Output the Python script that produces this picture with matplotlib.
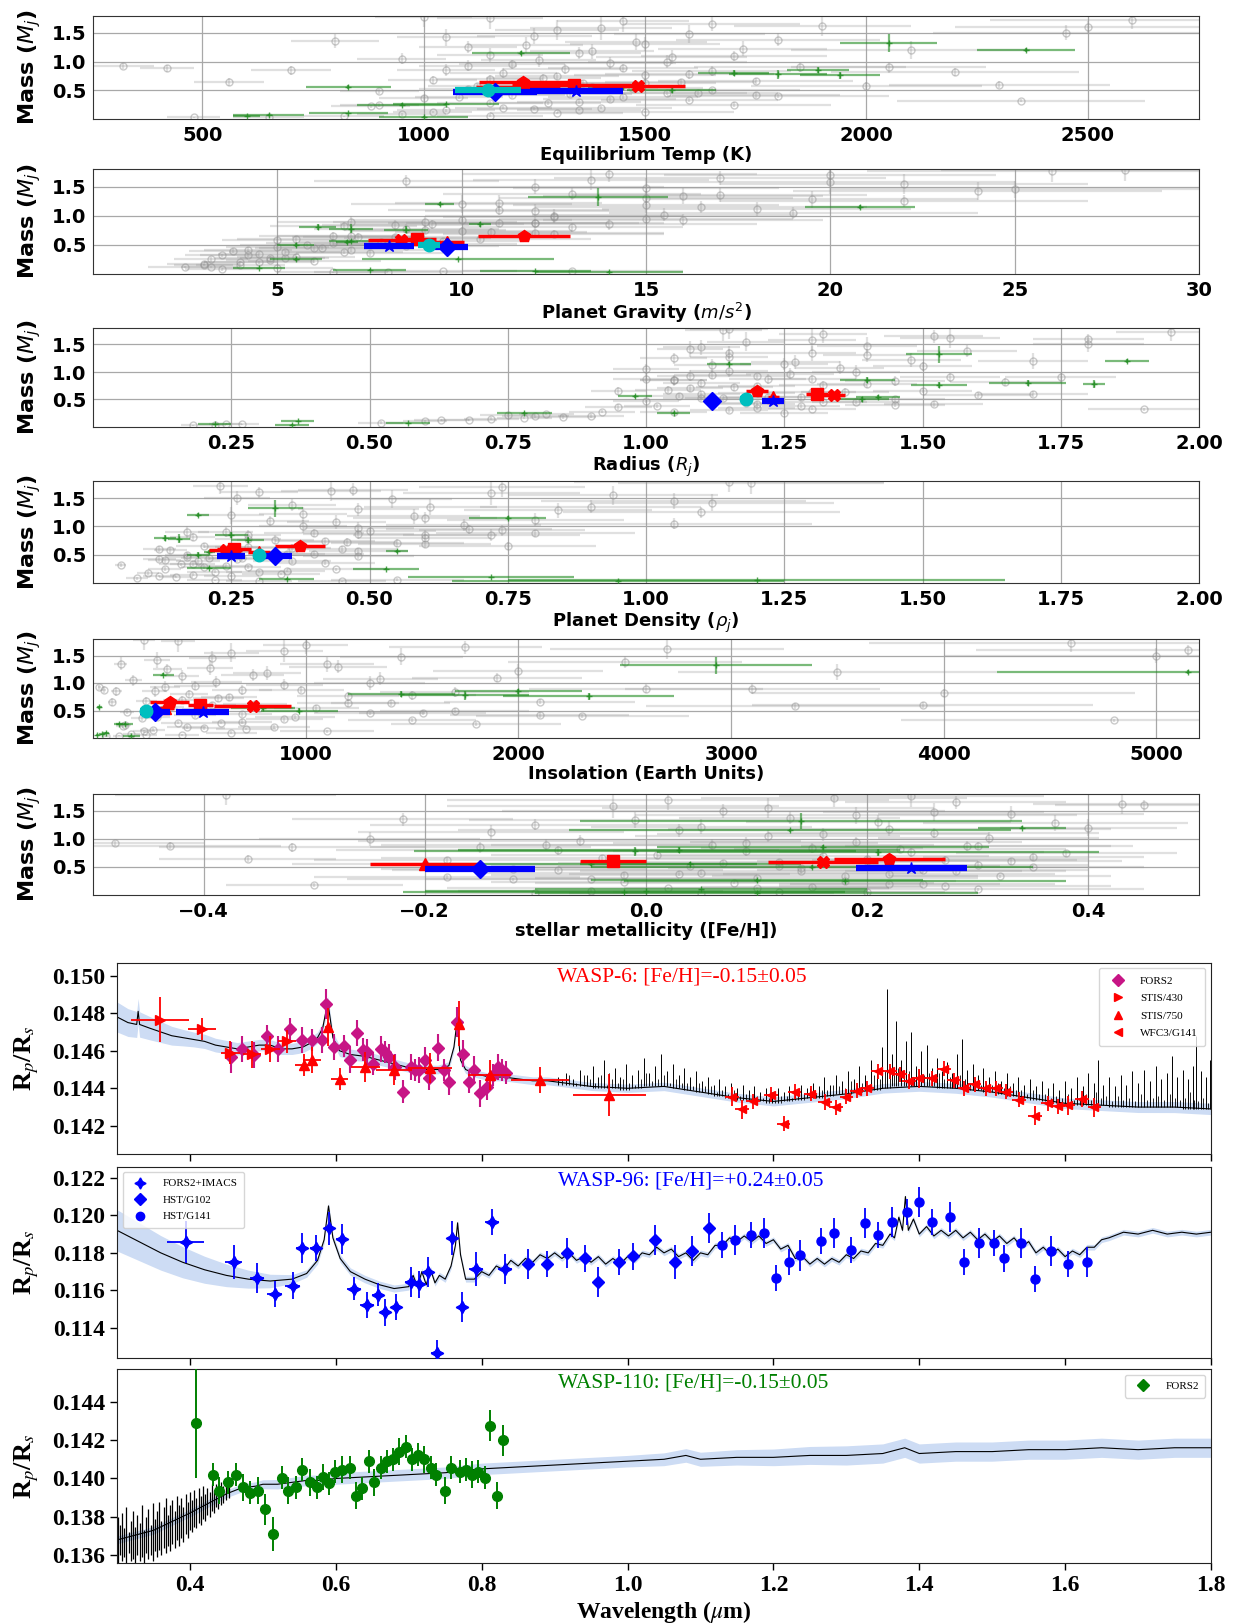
import matplotlib
matplotlib.use('Agg')
import matplotlib.pyplot as plt
from matplotlib.lines import Line2D
import numpy as np

# ---------------- top panels: mass vs planet / star parameters ----------------
# grey = known planets (same planets in every panel)
gray_mass = [0.03, 0.04, 0.05, 0.06, 0.08, 0.10, 0.12, 0.15, 0.18, 0.20, 0.22, 0.25, 0.28, 0.30, 0.33, 0.36, 0.38, 0.40, 0.42,
             0.45, 0.48, 0.50, 0.52, 0.55, 0.58, 0.60, 0.63, 0.66, 0.70, 0.74, 0.78, 0.82, 0.85, 0.88, 0.90, 0.95, 1.00, 1.05,
             1.10, 1.15, 1.20, 1.25, 1.30, 1.38, 1.45, 1.50, 1.58, 1.65, 1.72, 1.78, 0.92, 0.88, 0.65, 0.85, 1.35, 0.32, 1.60,
             0.12, 0.20, 0.28, 0.34, 0.38, 0.44, 0.46, 0.52, 0.54, 0.57, 0.62, 0.64, 0.68, 0.72, 0.76, 0.80, 0.84, 0.87,
             0.93, 0.97, 1.02, 1.08, 1.12, 1.18, 1.22, 1.28, 1.34, 1.42, 1.48, 1.55, 1.62, 1.70, 1.76, 0.16, 0.24, 0.42,
             0.60, 0.90]
gray_mass_err = [0.01, 0.01, 0.01, 0.02, 0.02, 0.02, 0.02, 0.03, 0.03, 0.03, 0.03, 0.04, 0.03, 0.04, 0.03, 0.05, 0.04, 0.04, 0.05,
                 0.04, 0.05, 0.04, 0.05, 0.05, 0.06, 0.05, 0.06, 0.05, 0.07, 0.06, 0.08, 0.07, 0.10, 0.07, 0.09, 0.08, 0.12, 0.10,
                 0.09, 0.11, 0.15, 0.10, 0.12, 0.11, 0.14, 0.13, 0.20, 0.12, 0.15, 0.18, 0.05, 0.06, 0.07, 0.08, 0.12, 0.03, 0.10,
                 0.02, 0.03, 0.03, 0.04, 0.04, 0.05, 0.05, 0.05, 0.06, 0.05, 0.06, 0.06, 0.07, 0.07, 0.08, 0.08, 0.09, 0.09,
                 0.10, 0.10, 0.11, 0.12, 0.12, 0.13, 0.13, 0.14, 0.14, 0.15, 0.16, 0.17, 0.18, 0.18, 0.19, 0.02, 0.03, 0.05,
                 0.06, 0.10]
gray_teq = [480, 650, 820, 1150, 950, 1300, 1500, 1050, 1250, 1400, 880, 1700, 1150, 1350, 1600, 1000, 1450, 1800, 1200,
            1550, 900, 1650, 1100, 1380, 2000, 1250, 1500, 1750, 1150, 1300, 1600, 2200, 1050, 1450, 1850, 1200, 1550, 950,
            1700, 1350, 2100, 1100, 1500, 1800, 1250, 2450, 1400, 1650, 2600, 1000, 320, 420, 560, 700, 800, 2350, 2500,
            1020, 1180, 1280, 1420, 1080, 1330, 1620, 1230, 1470, 1120, 1360, 1580, 1020, 1270, 1500, 1180, 1650, 1320,
            1100, 1420, 1260, 1560, 1150, 1380, 1720, 1230, 1480, 1050, 1600, 1300, 1900, 1450, 1150, 1350, 900, 1750,
            2300, 2050]
gray_teq_err = [60, 80, 90, 120, 100, 150, 200, 110, 130, 160, 90, 220, 120, 140, 200, 100, 170, 250, 120,
                180, 90, 200, 110, 150, 260, 130, 160, 220, 120, 140, 190, 280, 110, 170, 240, 120, 180, 100,
                210, 140, 270, 110, 170, 230, 130, 300, 160, 200, 320, 110, 70, 60, 80, 90, 100, 280, 300,
                90, 110, 120, 150, 100, 140, 180, 120, 160, 110, 140, 170, 100, 130, 160, 120, 180, 140,
                110, 150, 130, 170, 120, 140, 190, 130, 160, 110, 170, 140, 200, 150, 120, 140, 90, 190,
                250, 220]
gray_g = [6.5, 8.0, 9.5, 13.0, 3.5, 5.0, 2.5, 4.0, 3.0, 4.5, 6.0, 3.2, 4.8, 5.5, 4.2, 7.5, 5.2, 3.8, 7.0,
          6.2, 8.5, 5.8, 9.0, 7.8, 5.0, 10.5, 8.2, 7.0, 12.0, 10.0, 8.5, 6.8, 14.0, 11.0, 9.0, 15.0, 12.5, 19.0,
          11.0, 16.5, 10.0, 22.0, 15.0, 13.0, 25.0, 12.0, 20.0, 17.0, 14.0, 28.0, 10.0, 12.0, 6.5, 9.2, 17.0, 3.5, 8.5,
          3.2, 4.0, 5.2, 4.5, 6.8, 6.0, 5.0, 8.0, 6.5, 9.5, 8.8, 7.2, 12.5, 10.8, 9.0, 13.0, 8.2, 12.0,
          16.0, 12.5, 15.5, 12.0, 18.0, 15.0, 11.0, 19.5, 16.0, 24.0, 15.0, 22.0, 13.5, 20.0, 26.0, 3.0, 4.8, 4.2,
          5.5, 7.0]
gray_g_err = [1.5, 2.0, 2.0, 3.0, 1.0, 1.5, 1.0, 1.2, 1.0, 1.5, 1.8, 1.0, 1.5, 1.6, 1.3, 2.0, 1.5, 1.2, 2.0,
              1.8, 2.5, 1.8, 2.5, 2.2, 1.5, 3.0, 2.5, 2.0, 3.5, 3.0, 2.5, 2.0, 4.0, 3.0, 2.5, 4.0, 3.5, 5.0,
              3.0, 4.5, 3.0, 5.0, 4.0, 3.5, 5.0, 3.5, 5.0, 4.5, 4.0, 5.0, 3.0, 3.5, 2.0, 2.5, 4.0, 1.0, 2.5,
              0.8, 1.0, 1.2, 1.1, 1.6, 1.5, 1.4, 2.0, 1.8, 2.2, 2.0, 1.8, 3.0, 2.6, 2.2, 3.0, 2.0, 2.8,
              3.8, 3.0, 3.6, 3.0, 4.2, 3.6, 2.8, 4.5, 3.8, 5.0, 3.6, 5.0, 3.2, 4.5, 5.0, 0.8, 1.2, 1.2,
              1.6, 2.0]
gray_r = [0.18, 0.22, 0.27, 0.24, 0.52, 0.60, 0.63, 0.72, 0.85, 0.90, 0.75, 1.25, 1.05, 1.15, 1.30, 0.95, 1.28, 1.45, 1.20,
          1.32, 1.00, 1.45, 1.10, 1.22, 1.60, 1.10, 1.30, 1.50, 1.08, 1.20, 1.40, 1.65, 1.05, 1.30, 1.55, 1.12, 1.38, 1.00,
          1.50, 1.25, 1.70, 1.05, 1.40, 1.58, 1.10, 1.80, 1.30, 1.52, 1.95, 1.15, 1.20, 1.00, 0.95, 1.05, 1.15, 1.90, 1.80,
          0.68, 0.80, 0.92, 1.20, 1.02, 1.18, 1.38, 1.14, 1.28, 1.06, 1.20, 1.36, 1.04, 1.16, 1.32, 1.10, 1.45, 1.22,
          1.08, 1.26, 1.15, 1.35, 1.12, 1.27, 1.48, 1.15, 1.30, 1.08, 1.40, 1.18, 1.55, 1.32, 1.14, 0.78, 0.82, 1.52,
          1.70, 1.75]
gray_r_err = [0.02, 0.02, 0.03, 0.03, 0.04, 0.04, 0.05, 0.05, 0.06, 0.06, 0.05, 0.08, 0.06, 0.07, 0.08, 0.06, 0.07, 0.09, 0.07,
              0.08, 0.06, 0.09, 0.07, 0.08, 0.10, 0.07, 0.08, 0.09, 0.06, 0.07, 0.09, 0.10, 0.06, 0.08, 0.09, 0.07, 0.08, 0.06,
              0.09, 0.08, 0.10, 0.06, 0.08, 0.09, 0.07, 0.10, 0.08, 0.09, 0.10, 0.07, 0.06, 0.06, 0.05, 0.06, 0.07, 0.10, 0.10,
              0.05, 0.06, 0.06, 0.07, 0.06, 0.07, 0.08, 0.07, 0.08, 0.06, 0.07, 0.08, 0.06, 0.07, 0.08, 0.07, 0.09, 0.07,
              0.06, 0.08, 0.07, 0.08, 0.07, 0.08, 0.09, 0.07, 0.08, 0.06, 0.09, 0.07, 0.09, 0.08, 0.07, 0.05, 0.05, 0.09,
              0.10, 0.10]
gray_rho = [0.45, 0.30, 0.22, 0.55, 0.08, 0.15, 0.12, 0.18, 0.10, 0.22, 0.35, 0.13, 0.20, 0.24, 0.16, 0.42, 0.19, 0.13, 0.26,
            0.21, 0.48, 0.17, 0.40, 0.30, 0.14, 0.45, 0.28, 0.20, 0.55, 0.42, 0.28, 0.18, 0.72, 0.40, 0.24, 0.68, 0.38, 1.05,
            0.32, 0.60, 0.25, 1.10, 0.48, 0.36, 1.05, 0.26, 0.72, 0.47, 0.23, 1.15, 0.50, 0.80, 0.75, 0.60, 0.90, 0.05, 0.30,
            0.25, 0.30, 0.28, 0.18, 0.36, 0.27, 0.17, 0.35, 0.26, 0.48, 0.36, 0.25, 0.60, 0.46, 0.33, 0.60, 0.28, 0.48,
            0.74, 0.48, 0.67, 0.44, 0.80, 0.58, 0.38, 0.84, 0.61, 1.12, 0.54, 0.94, 0.43, 0.74, 1.19, 0.34, 0.44, 0.12,
            0.12, 0.17]
gray_rho_err = [0.08, 0.06, 0.05, 0.12, 0.02, 0.03, 0.03, 0.04, 0.02, 0.05, 0.07, 0.03, 0.04, 0.05, 0.04, 0.09, 0.04, 0.03, 0.06,
                0.05, 0.10, 0.04, 0.09, 0.07, 0.03, 0.10, 0.06, 0.05, 0.12, 0.09, 0.06, 0.04, 0.16, 0.09, 0.05, 0.15, 0.08, 0.25,
                0.07, 0.13, 0.06, 0.25, 0.11, 0.08, 0.24, 0.06, 0.16, 0.10, 0.05, 0.28, 0.12, 0.18, 0.16, 0.13, 0.20, 0.01, 0.07,
                0.05, 0.06, 0.06, 0.04, 0.07, 0.06, 0.04, 0.07, 0.05, 0.09, 0.07, 0.05, 0.12, 0.09, 0.07, 0.12, 0.06, 0.10,
                0.15, 0.10, 0.14, 0.09, 0.16, 0.12, 0.08, 0.17, 0.12, 0.22, 0.11, 0.19, 0.09, 0.15, 0.24, 0.07, 0.09, 0.03,
                0.03, 0.04]
gray_ins = [60, 120, 250, 420, 180, 650, 1100, 280, 520, 850, 140, 1800, 400, 700, 1500, 230, 950, 2300, 480,
            1300, 160, 1700, 330, 780, 3300, 560, 1200, 2100, 420, 640, 1500, 4000, 290, 980, 2600, 480, 1300, 190,
            1900, 750, 3500, 350, 1150, 2500, 560, 5000, 900, 1750, 4600, 240, 30, 50, 90, 110, 130, 4800, 5150,
            240, 440, 600, 900, 300, 700, 1550, 520, 1050, 360, 760, 1400, 250, 590, 1200, 450, 1700, 700,
            340, 900, 580, 1350, 420, 820, 2000, 550, 1100, 300, 1450, 650, 2700, 1000, 400, 720, 150, 2100,
            3900, 3100]
gray_ins_err = [15, 25, 50, 80, 40, 120, 220, 60, 100, 170, 30, 400, 80, 140, 300, 50, 190, 500, 100,
                260, 35, 350, 70, 160, 700, 110, 240, 450, 90, 130, 300, 900, 60, 200, 550, 100, 260, 40,
                400, 150, 750, 70, 230, 550, 110, 1000, 180, 360, 950, 50, 8, 12, 20, 25, 30, 1000, 1000,
                50, 90, 120, 180, 60, 140, 300, 100, 200, 70, 150, 280, 50, 120, 240, 90, 350, 140,
                70, 180, 120, 270, 80, 160, 400, 110, 220, 60, 290, 130, 550, 200, 80, 140, 30, 420,
                800, 600]
gray_feh = [-0.10, 0.05, 0.12, 0.20, -0.05, 0.30, 0.02, 0.15, -0.30, 0.25, 0.08, 0.18, -0.12, 0.10, 0.32, -0.02, 0.22, 0.05, 0.28,
            -0.08, 0.14, 0.35, 0.04, -0.20, 0.12, 0.20, 0.27, -0.04, 0.16, 0.38, 0.09, 0.23, -0.15, 0.30, 0.06, 0.19, -0.25, 0.11,
            0.26, 0.03, 0.40, -0.10, 0.21, 0.13, 0.33, 0.07, -0.03, 0.28, 0.17, -0.38, -0.48, -0.43, -0.36, -0.32, -0.22, -0.18, 0.45,
            0.10, 0.22, -0.05, 0.18, 0.03, 0.25, -0.12, 0.12, 0.30, 0.07, -0.18, 0.20, 0.35, 0.01, 0.24, -0.08, 0.15, 0.29,
            0.09, -0.06, 0.31, 0.16, -0.14, 0.22, 0.05, 0.37, -0.01, 0.19, 0.26, 0.11, 0.43, 0.02, 0.24, 0.27, -0.02, 0.14,
            0.33, -0.09]
gray_feh_err = [0.10, 0.12, 0.15, 0.10, 0.12, 0.15, 0.20, 0.10, 0.08, 0.12, 0.18, 0.10, 0.15, 0.20, 0.10, 0.12, 0.15, 0.20, 0.10,
                0.15, 0.12, 0.10, 0.18, 0.12, 0.15, 0.10, 0.12, 0.20, 0.15, 0.10, 0.12, 0.15, 0.10, 0.12, 0.20, 0.15, 0.10, 0.12,
                0.15, 0.20, 0.08, 0.15, 0.12, 0.10, 0.12, 0.20, 0.15, 0.10, 0.12, 0.10, 0.08, 0.10, 0.08, 0.12, 0.10, 0.12, 0.08,
                0.12, 0.10, 0.15, 0.12, 0.10, 0.15, 0.12, 0.20, 0.10, 0.15, 0.12, 0.20, 0.10, 0.15, 0.12, 0.20, 0.10, 0.15,
                0.12, 0.20, 0.10, 0.15, 0.12, 0.20, 0.10, 0.12, 0.15, 0.20, 0.10, 0.15, 0.08, 0.20, 0.12, 0.15, 0.12, 0.20,
                0.10, 0.15]

# green = other observed targets
green_mass = [1.20, 1.32, 1.15, 0.80, 0.78, 0.76, 0.85, 0.56, 0.50, 0.55, 0.25, 0.26, 0.10, 0.07, 0.05, 0.04]
green_mass_err = [0.03, 0.15, 0.03, 0.05, 0.08, 0.06, 0.05, 0.03, 0.04, 0.04, 0.02, 0.02, 0.01, 0.01, 0.01, 0.01]
green_teq = [2360, 2050, 1220, 1700, 1800, 1940, 1890, 830, 1560, 1450, 950, 1050, 830, 650, 600, 1000]
green_teq_err = [110, 110, 110, 80, 110, 90, 70, 95, 100, 80, 100, 120, 90, 80, 30, 100]
green_g = [9.4, 13.7, 20.8, 6.1, 7.0, 8.5, 10.5, 7.0, 5.5, 6.9, 5.5, 9.9, 4.5, 7.5, 12.0, 14.0]
green_g_err = [0.4, 1.9, 1.5, 0.5, 0.6, 0.6, 0.3, 0.6, 0.5, 0.3, 0.7, 2.6, 0.7, 1.0, 1.5, 2.0]
green_r = [1.87, 1.53, 1.15, 1.69, 1.81, 1.53, 1.40, 0.98, 1.39, 1.42, 0.78, 1.05, 0.37, 0.57, 0.22, 0.36]
green_r_err = [0.04, 0.06, 0.04, 0.07, 0.02, 0.05, 0.05, 0.03, 0.05, 0.04, 0.05, 0.03, 0.03, 0.04, 0.03, 0.03]
green_rho = [0.19, 0.33, 0.75, 0.13, 0.155, 0.28, 0.25, 0.55, 0.19, 0.21, 0.53, 0.21, 0.72, 0.35, 1.20, 0.95]
green_rho_err = [0.02, 0.05, 0.07, 0.02, 0.02, 0.03, 0.03, 0.02, 0.02, 0.01, 0.06, 0.04, 0.15, 0.05, 0.45, 0.30]
green_ins = [5150, 2930, 330, 1450, 1750, 2330, 2000, 30, 970, 800, 120, 150, 60, 40, 20, 180]
green_ins_err = [900, 450, 50, 250, 300, 400, 300, 10, 180, 150, 20, 40, 15, 10, 8, 40]
green_feh = [0.34, 0.14, 0.13, 0.03, -0.01, 0.21, 0.16, 0.04, 0.15, -0.05, 0.18, 0.10, 0.05, 0.00, -0.02, 0.10]
green_feh_err = [0.04, 0.20, 0.20, 0.20, 0.20, 0.20, 0.15, 0.10, 0.20, 0.15, 0.20, 0.15, 0.15, 0.20, 0.20, 0.20]

# highlighted planets
hl_marker = ['p', '^', 's', 'X', 'D', '*', 'o']
hl_color = ['red', 'red', 'red', 'red', 'blue', 'blue', 'c']
hl_mass = [0.65, 0.55, 0.60, 0.58, 0.47, 0.48, 0.50]
hl_teq = [1225, 1213, 1340, 1485, 1160, 1345, 1145]
hl_teq_err = [100, 95, 140, 105, 95, 105, 75]
hl_g = [11.7, 9.6, 8.8, 8.35, 9.6, 8.03, 9.12]
hl_g_err = [1.25, 0.46, 0.5, 0.9, 0.57, 0.68, 0.3]
hl_r = [1.20, 1.23, 1.31, 1.34, 1.12, 1.23, 1.18]
hl_r_err = [0.02, 0.01, 0.02, 0.02, 0.01, 0.02, 0.01]
hl_rho = [0.375, 0.30, 0.255, 0.24, 0.33, 0.25, 0.30]
hl_rho_err = [0.045, 0.02, 0.03, 0.03, 0.03, 0.025, 0.01]
hl_ins = [360, 340, 505, 750, 290, 515, 250]
hl_ins_err = [90, 40, 60, 180, 70, 125, 30]
hl_feh = [0.22, -0.20, -0.03, 0.16, -0.15, 0.24, np.nan]
hl_feh_err = [0.05, 0.05, 0.03, 0.05, 0.05, 0.05, 0.0]

# ---------------- transmission spectra ----------------
# WASP-6
w6_fors2_wl = [0.456, 0.472, 0.488, 0.505, 0.521, 0.537, 0.554, 0.567, 0.581, 0.586, 0.597, 0.611, 0.619, 0.629, 0.637,
               0.643, 0.651, 0.662, 0.668, 0.673, 0.681, 0.692, 0.703, 0.709, 0.714, 0.722, 0.728, 0.740, 0.749, 0.755,
               0.766, 0.774, 0.782, 0.790, 0.798, 0.807, 0.815, 0.823, 0.828, 0.834]
w6_fors2_rp = [0.14564, 0.14611, 0.14576, 0.14677, 0.14611, 0.14717, 0.14656, 0.14656, 0.14656, 0.14850, 0.14620, 0.14624,
               0.14550, 0.14694, 0.14606, 0.14594, 0.14532, 0.14611, 0.14594, 0.14567, 0.14514, 0.14382, 0.14514, 0.14497,
               0.14497, 0.14550, 0.14453, 0.14617, 0.14497, 0.14435, 0.14753, 0.14585, 0.14435, 0.14500, 0.14373, 0.14408,
               0.14470, 0.14514, 0.14497, 0.14483]
w6_fors2_err = [0.0008, 0.0007, 0.0007, 0.0006, 0.0007, 0.0006, 0.0007, 0.0006, 0.0007, 0.0008, 0.0007, 0.0006, 0.0007,
                0.0007, 0.0006, 0.0007, 0.0006, 0.0007, 0.0006, 0.0007, 0.0007, 0.0006, 0.0007, 0.0006, 0.0007, 0.0007,
                0.0006, 0.0007, 0.0006, 0.0007, 0.0008, 0.0007, 0.0006, 0.0007, 0.0007, 0.0007, 0.0006, 0.0007, 0.0006, 0.0006]
w6_s430_wl = [0.359, 0.417, 0.4555, 0.4854, 0.5099, 0.5333]
w6_s430_rp = [0.14765, 0.14717, 0.14590, 0.14580, 0.14611, 0.14650]
w6_s430_xerr = [0.040, 0.019, 0.013, 0.012, 0.013, 0.012]
w6_s430_err = [0.0012, 0.0006, 0.0006, 0.0007, 0.0007, 0.0006]
w6_s750_wl = [0.5562, 0.5671, 0.5888, 0.6052, 0.6405, 0.6797, 0.7293, 0.7684, 0.8109, 0.8800, 0.9752]
w6_s750_rp = [0.14523, 0.14550, 0.14726, 0.14449, 0.14511, 0.14497, 0.14506, 0.14744, 0.14470, 0.14444, 0.14364]
w6_s750_xerr = [0.012, 0.012, 0.004, 0.012, 0.02, 0.025, 0.03, 0.004, 0.03, 0.04, 0.05]
w6_s750_err = [0.0006, 0.0007, 0.0010, 0.0006, 0.0008, 0.0008, 0.0008, 0.0012, 0.0008, 0.0007, 0.0011]
w6_wfc3_wl = [1.143, 1.157, 1.172, 1.197, 1.214, 1.229, 1.251, 1.271, 1.286, 1.300, 1.315, 1.329, 1.343, 1.360, 1.374, 1.386,
              1.400, 1.417, 1.434, 1.448, 1.462, 1.476, 1.491, 1.505, 1.519, 1.537, 1.559, 1.576, 1.590, 1.604, 1.623, 1.640]
w6_wfc3_rp = [0.14355, 0.14288, 0.14332, 0.14366, 0.14211, 0.14382, 0.14371, 0.14327, 0.14299, 0.14355, 0.14388, 0.14399,
              0.14492, 0.14492, 0.14476, 0.14437, 0.14454, 0.14454, 0.14503, 0.14443, 0.14399, 0.14421, 0.14399, 0.14399,
              0.14382, 0.14338, 0.14255, 0.14321, 0.14305, 0.14310, 0.14343, 0.14299]
w6_wfc3_err = [0.0005, 0.0005, 0.0004, 0.0004, 0.0004, 0.0004, 0.0004, 0.0004, 0.0004, 0.0004, 0.0004, 0.0004, 0.0004,
               0.0004, 0.0004, 0.0004, 0.0005, 0.0004, 0.0004, 0.0004, 0.0004, 0.0004, 0.0004, 0.0004, 0.0004, 0.0004,
               0.0005, 0.0004, 0.0004, 0.0005, 0.0004, 0.0005]
w6_wfc3_bin = 0.0093
# model continuum
w6_model_wl = [0.300, 0.315, 0.327, 0.329, 0.331, 0.345, 0.360, 0.375, 0.390, 0.405, 0.420, 0.435, 0.450, 0.465, 0.480,
               0.495, 0.510, 0.525, 0.540, 0.555, 0.565, 0.575, 0.582, 0.586, 0.589, 0.592, 0.596, 0.605, 0.620, 0.640,
               0.660, 0.680, 0.700, 0.720, 0.740, 0.755, 0.762, 0.766, 0.768, 0.771, 0.778, 0.790, 0.810, 0.830, 0.850,
               0.870, 0.890, 0.910, 0.930, 0.950, 1.000, 1.050, 1.100, 1.150, 1.200, 1.250, 1.300, 1.350, 1.400, 1.450,
               1.500, 1.550, 1.600, 1.650, 1.700, 1.750, 1.800]
w6_model_rp = [0.1478, 0.1475, 0.1474, 0.1481, 0.1474, 0.1472, 0.1470, 0.1468, 0.1467, 0.1466, 0.1465, 0.1463, 0.1462,
               0.1461, 0.1462, 0.1463, 0.1463, 0.1461, 0.1461, 0.1462, 0.1464, 0.1467, 0.1472, 0.1480, 0.1486, 0.1478,
               0.1467, 0.1460, 0.1458, 0.1457, 0.1455, 0.1453, 0.1451, 0.1450, 0.1450, 0.1452, 0.1462, 0.1475, 0.1468,
               0.1455, 0.1450, 0.1448, 0.1446, 0.1446, 0.1445, 0.1444, 0.1444, 0.1443, 0.1442, 0.1441, 0.1440, 0.1441,
               0.1438, 0.1435, 0.1433, 0.1435, 0.1437, 0.1440, 0.1441, 0.1440, 0.1438, 0.1435, 0.1432, 0.1431, 0.1430,
               0.1430, 0.1429]
# model absorption lines (drawn as thin spikes)
w6_spike_wl = [0.905, 0.915, 0.925, 0.935, 0.945, 0.952, 0.960, 0.968, 0.975, 0.983, 0.990, 0.998, 1.006, 1.014, 1.022,
               1.030, 1.038, 1.046, 1.054, 1.062, 1.070, 1.078, 1.086, 1.094, 1.102, 1.110, 1.118, 1.126, 1.134, 1.142,
               1.150, 1.158, 1.166, 1.174, 1.182, 1.190, 1.198, 1.206, 1.214, 1.222, 1.230, 1.238, 1.246, 1.254, 1.262,
               1.270, 1.278, 1.286, 1.294, 1.302, 1.310, 1.318, 1.326, 1.334, 1.342, 1.349, 1.356, 1.363, 1.368, 1.375,
               1.382, 1.389, 1.396, 1.403, 1.410, 1.417, 1.424, 1.431, 1.438, 1.445, 1.452, 1.459, 1.466, 1.473, 1.480,
               1.488, 1.496, 1.504, 1.512, 1.520, 1.528, 1.536, 1.544, 1.552, 1.560, 1.568, 1.576, 1.584, 1.592, 1.600,
               1.608, 1.616, 1.624, 1.632, 1.640, 1.645, 1.652, 1.660, 1.668, 1.676, 1.684, 1.692, 1.700, 1.708, 1.716,
               1.724, 1.732, 1.740, 1.747, 1.754, 1.761, 1.768, 1.775, 1.779, 1.786, 1.793, 1.798]
w6_spike_lo = [0.1442, 0.1442, 0.1441, 0.1441, 0.1441, 0.1440, 0.1440, 0.1440, 0.1440, 0.1440, 0.1439, 0.1439, 0.1440,
               0.1440, 0.1441, 0.1441, 0.1441, 0.1441, 0.1441, 0.1440, 0.1440, 0.1439, 0.1439, 0.1438, 0.1438, 0.1437,
               0.1436, 0.1436, 0.1435, 0.1435, 0.1434, 0.1434, 0.1433, 0.1433, 0.1433, 0.1432, 0.1432, 0.1432, 0.1433,
               0.1433, 0.1434, 0.1434, 0.1435, 0.1435, 0.1435, 0.1436, 0.1436, 0.1437, 0.1437, 0.1437, 0.1438, 0.1438,
               0.1439, 0.1439, 0.1439, 0.1440, 0.1440, 0.1441, 0.1441, 0.1441, 0.1441, 0.1441, 0.1441, 0.1441, 0.1441,
               0.1441, 0.1440, 0.1440, 0.1440, 0.1440, 0.1440, 0.1440, 0.1439, 0.1439, 0.1439, 0.1438, 0.1438, 0.1437,
               0.1437, 0.1436, 0.1436, 0.1435, 0.1435, 0.1434, 0.1434, 0.1433, 0.1433, 0.1432, 0.1432, 0.1432, 0.1431,
               0.1431, 0.1431, 0.1431, 0.1431, 0.1431, 0.1431, 0.1430, 0.1430, 0.1430, 0.1430, 0.1430, 0.1430, 0.1430,
               0.1430, 0.1430, 0.1430, 0.1430, 0.1430, 0.1430, 0.1429, 0.1429, 0.1429, 0.1429, 0.1429, 0.1429, 0.1429]
w6_spike_hi = [0.1446, 0.1448, 0.1445, 0.1450, 0.1447, 0.1452, 0.1446, 0.1455, 0.1448, 0.1451, 0.1446, 0.1453, 0.1447,
               0.1450, 0.1456, 0.1448, 0.1452, 0.1458, 0.1449, 0.1453, 0.1447, 0.1451, 0.1446, 0.1449, 0.1444, 0.1446,
               0.1442, 0.1445, 0.1441, 0.1443, 0.1440, 0.1442, 0.1439, 0.1441, 0.1438, 0.1440, 0.1438, 0.1440, 0.1438,
               0.1441, 0.1439, 0.1442, 0.1440, 0.1443, 0.1441, 0.1446, 0.1442, 0.1447, 0.1444, 0.1449, 0.1445, 0.1452,
               0.1447, 0.1455, 0.1450, 0.1462, 0.1493, 0.1458, 0.1476, 0.1455, 0.1465, 0.1470, 0.1452, 0.1460, 0.1463,
               0.1451, 0.1456, 0.1449, 0.1454, 0.1448, 0.1458, 0.1466, 0.1450, 0.1453, 0.1447, 0.1451, 0.1446, 0.1449,
               0.1444, 0.1448, 0.1443, 0.1446, 0.1442, 0.1445, 0.1441, 0.1444, 0.1440, 0.1443, 0.1439, 0.1444, 0.1440,
               0.1446, 0.1441, 0.1448, 0.1443, 0.1455, 0.1442, 0.1446, 0.1441, 0.1447, 0.1442, 0.1449, 0.1443, 0.1450,
               0.1444, 0.1452, 0.1445, 0.1448, 0.1457, 0.1446, 0.1450, 0.1445, 0.1452, 0.1468, 0.1449, 0.1446, 0.1455]
# weaker lines between the main ones: position and height above the continuum (units of 1e-4)
w6_weak_wl = [0.910, 0.920, 0.930, 0.940, 0.9485, 0.956, 0.964, 0.9715, 0.979, 0.9865,
              0.994, 1.002, 1.010, 1.018, 1.026, 1.034, 1.042, 1.050, 1.058, 1.066,
              1.074, 1.082, 1.090, 1.098, 1.106, 1.114, 1.122, 1.130, 1.138, 1.146,
              1.154, 1.162, 1.170, 1.178, 1.186, 1.194, 1.202, 1.210, 1.218, 1.226,
              1.234, 1.242, 1.250, 1.258, 1.266, 1.274, 1.282, 1.290, 1.298, 1.306,
              1.314, 1.322, 1.330, 1.338, 1.3455, 1.3525, 1.3595, 1.3655, 1.3715, 1.3785,
              1.3855, 1.3925, 1.3995, 1.4065, 1.4135, 1.4205, 1.4275, 1.4345, 1.4415, 1.4485,
              1.4555, 1.4625, 1.4695, 1.4765, 1.484, 1.492, 1.500, 1.508, 1.516, 1.524,
              1.532, 1.540, 1.548, 1.556, 1.564, 1.572, 1.580, 1.588, 1.596, 1.604,
              1.612, 1.620, 1.628, 1.636, 1.6425, 1.6485, 1.656, 1.664, 1.672, 1.680,
              1.688, 1.696, 1.704, 1.712, 1.720, 1.728, 1.736, 1.7435, 1.7505, 1.7575,
              1.7645, 1.7715, 1.777, 1.7825, 1.7895, 1.7955]
w6_weak_h = [3, 5, 2, 6, 4, 3, 7, 2, 5, 3, 6, 4, 2, 5, 7, 3, 4, 6, 2, 5, 3, 4, 2, 5, 3, 4, 2, 3, 2, 4,
             2, 3, 2, 3, 2, 3, 2, 4, 3, 2, 4, 3, 5, 2, 4, 3, 6, 4, 3, 7, 4, 5, 3, 8, 6, 9, 12, 7, 10, 6,
             8, 5, 9, 6, 7, 4, 8, 5, 6, 4, 7, 5, 4, 6, 3, 5, 4, 6, 3, 5, 3, 4, 2, 5, 3, 4, 2, 4, 3, 5,
             3, 4, 6, 3, 7, 4, 5, 3, 6, 4, 5, 3, 7, 4, 5, 6, 4, 7, 5, 4, 6, 9, 5, 4, 6, 3]
w6_band_wl = [0.30, 0.40, 0.50, 0.60, 0.80, 1.80]
w6_band_half = [0.0008, 0.0004, 0.0003, 0.0003, 0.0002, 0.0003]

# WASP-96
w96_fors_wl = [0.394, 0.460, 0.492, 0.516, 0.541, 0.554, 0.573, 0.591, 0.608, 0.625, 0.643, 0.658, 0.668, 0.683, 0.703,
               0.714, 0.727, 0.739, 0.760, 0.773, 0.792, 0.814, 0.832]
w96_fors_rp = [0.11858, 0.11753, 0.11665, 0.11582, 0.11626, 0.11825, 0.11825, 0.11930, 0.11874, 0.11610, 0.11521, 0.11577,
               0.11483, 0.11510, 0.11643, 0.11632, 0.11698, 0.11268, 0.11880, 0.11510, 0.11715, 0.11963, 0.11715]
w96_fors_err = [0.0011, 0.0009, 0.0008, 0.0007, 0.0007, 0.0008, 0.0007, 0.0009, 0.0008, 0.0006, 0.0007, 0.0006, 0.0007,
                0.0007, 0.0008, 0.0007, 0.0008, 0.0007, 0.0009, 0.0008, 0.0009, 0.0007, 0.0008]
w96_fors_xerr = [0.025, 0.012, 0.010, 0.010, 0.010, 0.008, 0.008, 0.006, 0.008, 0.010, 0.010, 0.008, 0.008, 0.008, 0.008,
                 0.008, 0.008, 0.008, 0.006, 0.006, 0.010, 0.010, 0.010]
w96_g102_wl = [0.863, 0.889, 0.917, 0.941, 0.960, 0.988, 1.008, 1.037, 1.065, 1.088, 1.112]
w96_g102_rp = [0.11742, 0.11742, 0.11797, 0.11770, 0.11643, 0.11753, 0.11781, 0.11869, 0.11753, 0.11808, 0.11930]
w96_g102_err = [0.0008, 0.0007, 0.0008, 0.0007, 0.0008, 0.0007, 0.0007, 0.0008, 0.0009, 0.0008, 0.0008]
w96_g141_wl = [1.130, 1.147, 1.169, 1.187, 1.203, 1.221, 1.237, 1.265, 1.283, 1.306, 1.326, 1.343, 1.363, 1.383, 1.400,
               1.417, 1.442, 1.462, 1.482, 1.502, 1.516, 1.539, 1.559, 1.580, 1.604, 1.630]
w96_g141_rp = [0.11841, 0.11869, 0.11897, 0.11908, 0.11665, 0.11753, 0.11786, 0.11863, 0.11908, 0.11814, 0.11957, 0.11897,
               0.11963, 0.12018, 0.12073, 0.11963, 0.11990, 0.11753, 0.11852, 0.11852, 0.11770, 0.11852, 0.11659, 0.11808,
               0.11742, 0.11753]
w96_g141_err = [0.0007, 0.0008, 0.0007, 0.0008, 0.0007, 0.0007, 0.0008, 0.0007, 0.0008, 0.0007, 0.0008, 0.0007, 0.0008,
                0.0007, 0.0008, 0.0007, 0.0008, 0.0007, 0.0008, 0.0007, 0.0007, 0.0008, 0.0007, 0.0008, 0.0007, 0.0008]
w96_model_wl = [0.300, 0.330, 0.360, 0.390, 0.420, 0.450, 0.480, 0.510, 0.540, 0.560, 0.575, 0.584, 0.590, 0.596, 0.606,
                0.620, 0.640, 0.660, 0.680, 0.700, 0.706, 0.712, 0.718, 0.724, 0.730, 0.736, 0.742, 0.750, 0.758, 0.764,
                0.767, 0.771, 0.778, 0.790, 0.800, 0.810, 0.820, 0.830, 0.840, 0.850, 0.860, 0.870, 0.880, 0.890, 0.900,
                0.910, 0.920, 0.930, 0.940, 0.950, 0.960, 0.970, 0.980, 0.990, 1.000, 1.010, 1.020, 1.030, 1.040, 1.050,
                1.060, 1.070, 1.080, 1.090, 1.100, 1.110, 1.120, 1.130, 1.140, 1.150, 1.160, 1.170, 1.180, 1.190, 1.200,
                1.210, 1.220, 1.230, 1.240, 1.250, 1.260, 1.270, 1.280, 1.290, 1.300, 1.310, 1.320, 1.330, 1.340, 1.350,
                1.360, 1.366, 1.372, 1.377, 1.381, 1.385, 1.392, 1.400, 1.410, 1.420, 1.430, 1.440, 1.450, 1.460, 1.470,
                1.480, 1.490, 1.500, 1.510, 1.520, 1.530, 1.540, 1.550, 1.560, 1.570, 1.580, 1.590, 1.600, 1.610, 1.620,
                1.630, 1.640, 1.650, 1.660, 1.680, 1.700, 1.720, 1.740, 1.760, 1.780, 1.800]
w96_model_rp = [0.1192, 0.1186, 0.1180, 0.1175, 0.1171, 0.1168, 0.1166, 0.1165, 0.1166, 0.1169, 0.1176, 0.1187, 0.1205,
                0.1188, 0.1177, 0.1170, 0.1166, 0.1163, 0.1161, 0.1162, 0.1168, 0.1162, 0.1170, 0.1163, 0.1171, 0.1164,
                0.1168, 0.1166, 0.1173, 0.1184, 0.1196, 0.1179, 0.1166, 0.1166, 0.1170, 0.1168, 0.1173, 0.1171, 0.1176,
                0.1173, 0.1177, 0.1175, 0.1179, 0.1177, 0.1180, 0.1177, 0.1180, 0.1176, 0.1178, 0.1175, 0.1178, 0.1174,
                0.1177, 0.1174, 0.1178, 0.1176, 0.1180, 0.1179, 0.1183, 0.1180, 0.1182, 0.1178, 0.1180, 0.1176, 0.1180,
                0.1179, 0.1184, 0.1184, 0.1188, 0.1186, 0.1189, 0.1186, 0.1189, 0.1185, 0.1187, 0.1182, 0.1184, 0.1177,
                0.1178, 0.1174, 0.1177, 0.1174, 0.1177, 0.1175, 0.1179, 0.1177, 0.1181, 0.1180, 0.1185, 0.1184, 0.1190,
                0.1188, 0.1199, 0.1192, 0.1210, 0.1192, 0.1198, 0.1190, 0.1194, 0.1189, 0.1192, 0.1189, 0.1192, 0.1188,
                0.1191, 0.1187, 0.1190, 0.1186, 0.1189, 0.1185, 0.1188, 0.1183, 0.1186, 0.1180, 0.1183, 0.1179, 0.1182,
                0.1178, 0.1181, 0.1179, 0.1183, 0.1183, 0.1187, 0.1188, 0.1191, 0.1190, 0.1192, 0.1190, 0.1191, 0.1190,
                0.1191]
w96_band_wl = [0.30, 0.40, 0.50, 0.55, 0.65, 0.80, 1.80]
w96_band_half = [0.0011, 0.0008, 0.0004, 0.0002, 0.0002, 0.00015, 0.00015]

# WASP-110
w110_wl = [0.409, 0.431, 0.440, 0.452, 0.463, 0.473, 0.483, 0.494, 0.503, 0.514, 0.526, 0.534, 0.545, 0.554, 0.565,
           0.574, 0.582, 0.591, 0.599, 0.608, 0.619, 0.628, 0.636, 0.645, 0.653, 0.662, 0.670, 0.679, 0.687, 0.696,
           0.704, 0.713, 0.721, 0.730, 0.738, 0.750, 0.758, 0.770, 0.778, 0.787, 0.795, 0.804, 0.812, 0.821, 0.829]
w110_rp = [0.14291, 0.14019, 0.13937, 0.13981, 0.14019, 0.13954, 0.13927, 0.13937, 0.13839, 0.13710, 0.14003, 0.13937,
           0.13954, 0.14046, 0.13981, 0.13954, 0.14008, 0.13976, 0.14035, 0.14046, 0.14057, 0.13910, 0.13948, 0.14090,
           0.13981, 0.14057, 0.14090, 0.14101, 0.14139, 0.14166, 0.14101, 0.14123, 0.14101, 0.14057, 0.14019, 0.13937,
           0.14057, 0.14035, 0.14046, 0.14019, 0.14035, 0.14003, 0.14275, 0.13910, 0.14199]
w110_err = [0.0029, 0.0006, 0.0007, 0.0006, 0.0006, 0.0007, 0.0006, 0.0007, 0.0008, 0.0009, 0.0006, 0.0007, 0.0006,
            0.0006, 0.0007, 0.0006, 0.0007, 0.0006, 0.0006, 0.0007, 0.0006, 0.0007, 0.0006, 0.0006, 0.0007, 0.0006,
            0.0006, 0.0006, 0.0007, 0.0006, 0.0006, 0.0006, 0.0007, 0.0006, 0.0006, 0.0007, 0.0006, 0.0006, 0.0006,
            0.0007, 0.0006, 0.0006, 0.0008, 0.0007, 0.0008]
w110_model_wl = [0.300, 0.350, 0.400, 0.450, 0.470, 0.490, 0.500, 0.520, 0.540, 0.560, 0.580, 0.600, 0.650, 0.700, 0.750,
                 0.800, 0.850, 0.900, 0.950, 1.000, 1.050, 1.080, 1.100, 1.150, 1.200, 1.250, 1.300, 1.350, 1.380, 1.400,
                 1.450, 1.500, 1.550, 1.600, 1.650, 1.700, 1.750, 1.800]
w110_model_rp = [0.1368, 0.1373, 0.1382, 0.1392, 0.1395, 0.1396, 0.1397, 0.1397, 0.1398, 0.1399, 0.1399, 0.1400, 0.1401,
                 0.1402, 0.1403, 0.1405, 0.1406, 0.1407, 0.1408, 0.1409, 0.1410, 0.1412, 0.1410, 0.1411, 0.1411, 0.1412,
                 0.1412, 0.1413, 0.1416, 0.1413, 0.1414, 0.1414, 0.1415, 0.1415, 0.1416, 0.1415, 0.1416, 0.1416]
w110_spike_wl = [0.301, 0.304, 0.307, 0.310, 0.313, 0.316, 0.319, 0.322, 0.325, 0.328, 0.331, 0.334, 0.337, 0.340, 0.343,
                 0.346, 0.349, 0.352, 0.355, 0.358, 0.361, 0.364, 0.367, 0.370, 0.373, 0.376, 0.379, 0.382, 0.385, 0.388,
                 0.391, 0.394, 0.397, 0.400, 0.403, 0.406, 0.409, 0.412, 0.415, 0.418, 0.421, 0.424, 0.427, 0.430, 0.433,
                 0.436, 0.439, 0.442, 0.446, 0.450, 0.454]
w110_spike_lo = [0.1356, 0.1360, 0.1357, 0.1359, 0.1356, 0.1361, 0.1357, 0.1358, 0.1356, 0.1360, 0.1357, 0.1359, 0.1356,
                 0.1361, 0.1358, 0.1360, 0.1357, 0.1362, 0.1359, 0.1363, 0.1360, 0.1364, 0.1361, 0.1365, 0.1362, 0.1366,
                 0.1364, 0.1368, 0.1365, 0.1369, 0.1367, 0.1371, 0.1369, 0.1373, 0.1372, 0.1375, 0.1374, 0.1377, 0.1376,
                 0.1379, 0.1378, 0.1381, 0.1380, 0.1383, 0.1382, 0.1385, 0.1384, 0.1386, 0.1387, 0.1389, 0.1390]
w110_spike_hi = [0.1380, 0.1376, 0.1382, 0.1374, 0.1385, 0.1372, 0.1378, 0.1383, 0.1375, 0.1381, 0.1377, 0.1386, 0.1373,
                 0.1380, 0.1384, 0.1376, 0.1387, 0.1379, 0.1383, 0.1388, 0.1378, 0.1385, 0.1390, 0.1381, 0.1386, 0.1389,
                 0.1383, 0.1391, 0.1386, 0.1390, 0.1385, 0.1392, 0.1388, 0.1393, 0.1389, 0.1394, 0.1390, 0.1395, 0.1391,
                 0.1396, 0.1392, 0.1395, 0.1393, 0.1397, 0.1394, 0.1397, 0.1395, 0.1398, 0.1396, 0.1398, 0.1397]
w110_band_wl = [0.30, 0.45, 0.60, 1.00, 1.30, 1.80]
w110_band_half = [0.0002, 0.0002, 0.0003, 0.0003, 0.0005, 0.0005]

# ---------------- figure ----------------
W, H = 1239, 1623
fig = plt.figure(figsize=(W / 100, H / 100), dpi=100)


def add_ax(l, t, r, b):
    return fig.add_axes([l / W, 1 - b / H, (r - l) / W, (b - t) / H])


top_rows = [(15.5, 119), (169, 274), (328, 427), (481, 583), (639, 738), (794, 895)]
top_panels = [
    (gray_teq, gray_teq_err, green_teq, green_teq_err, hl_teq, hl_teq_err,
     'Equilibrium Temp (K)', (253, 2751), [500, 1000, 1500, 2000, 2500], ['500', '1000', '1500', '2000', '2500']),
    (gray_g, gray_g_err, green_g, green_g_err, hl_g, hl_g_err,
     'Planet Gravity ($m/s^2$)', (0, 30), [5, 10, 15, 20, 25, 30], ['5', '10', '15', '20', '25', '30']),
    (gray_r, gray_r_err, green_r, green_r_err, hl_r, hl_r_err,
     'Radius ($R_j$)', (0, 2.0), [0.25, 0.5, 0.75, 1.0, 1.25, 1.5, 1.75, 2.0],
     ['0.25', '0.50', '0.75', '1.00', '1.25', '1.50', '1.75', '2.00']),
    (gray_rho, gray_rho_err, green_rho, green_rho_err, hl_rho, hl_rho_err,
     'Planet Density ($\\rho_j$)', (0, 2.0), [0.25, 0.5, 0.75, 1.0, 1.25, 1.5, 1.75, 2.0],
     ['0.25', '0.50', '0.75', '1.00', '1.25', '1.50', '1.75', '2.00']),
    (gray_ins, gray_ins_err, green_ins, green_ins_err, hl_ins, hl_ins_err,
     'Insolation (Earth Units)', (0, 5200), [1000, 2000, 3000, 4000, 5000], ['1000', '2000', '3000', '4000', '5000']),
    (gray_feh, gray_feh_err, green_feh, green_feh_err, hl_feh, hl_feh_err,
     'stellar metallicity ([Fe/H])', (-0.5, 0.5), [-0.4, -0.2, 0.0, 0.2, 0.4], ['\u22120.4', '\u22120.2', '0.0', '0.2', '0.4']),
]

for (t, b), (gx, gxe, grx, grxe, hx, hxe, xlabel, xlim, xt, xtl) in zip(top_rows, top_panels):
    ax = add_ax(93, t, 1199, b)
    ax.errorbar(gx, gray_mass, xerr=gxe, yerr=gray_mass_err, fmt='o', ms=5, mfc='none',
                mec=(0.55, 0.55, 0.55, 0.45), ecolor=(0.6, 0.6, 0.6, 0.3), elinewidth=1.6, capsize=0, zorder=2)
    ax.errorbar(grx, green_mass, xerr=grxe, yerr=green_mass_err, fmt='+', ms=5, color=(0.13, 0.55, 0.13, 0.8),
                ecolor=(0.13, 0.55, 0.13, 0.6), elinewidth=1.6, capsize=0, zorder=3)
    for i in range(len(hl_mass)):
        lw = 2.5 if hl_color[i] == 'red' else 4.5
        ax.errorbar(hx[i], hl_mass[i], xerr=hxe[i], fmt=hl_marker[i], color=hl_color[i], ms=9,
                    elinewidth=lw, capsize=0, zorder=5 + i)
    ax.set_xlim(*xlim)
    ax.set_ylim(0, 1.8)
    ax.set_xticks(xt, xtl, fontsize=14, fontweight='bold')
    ax.set_yticks([0.5, 1.0, 1.5], ['0.5', '1.0', '1.5'], fontsize=14, fontweight='bold')
    ax.tick_params(length=0, pad=5)
    ax.grid(True, color='#a8a8a8', lw=0.9)
    ax.set_axisbelow(True)
    for s in ax.spines.values():
        s.set_color('#333333')
    ax.set_xlabel(xlabel, fontsize=13, fontweight='bold', labelpad=1)
    ax.set_ylabel('Mass ($M_j$)', fontsize=16, fontweight='bold', labelpad=6)

# spectra
serif = 'Liberation Serif'
spec_rows = [(962.5, 1154), (1166.5, 1358), (1369, 1563)]
wl_ticks = [0.4, 0.6, 0.8, 1.0, 1.2, 1.4, 1.6, 1.8]
band_col = '#cddcf4'


def style_spec(ax, ylim, yticks, show_x):
    ax.set_xlim(0.3, 1.8)
    ax.set_ylim(*ylim)
    ax.set_xticks(wl_ticks, ['%.1f' % v for v in wl_ticks], fontsize=17, fontweight='bold', family=serif)
    ax.set_yticks(yticks, ['%.3f' % v for v in yticks], fontsize=17, fontweight='bold', family=serif)
    ax.tick_params(length=5, width=1, labelbottom=show_x)
    ax.set_ylabel('R$_p$/R$_s$', fontsize=19, fontweight='bold', family=serif, math_fontfamily='stix', labelpad=8)
    for s in ax.spines.values():
        s.set_color('#222222')


def draw_model(ax, wl, rp, bwl, bhalf):
    wl = np.array(wl)
    rp = np.array(rp)
    half = np.interp(wl, bwl, bhalf)
    ax.fill_between(wl, rp - half, rp + half, color=band_col, lw=0, zorder=1)
    ax.plot(wl, rp, color='k', lw=0.8, zorder=2)


# WASP-6
ax = add_ax(117, spec_rows[0][0], 1211, spec_rows[0][1])
draw_model(ax, w6_model_wl, w6_model_rp, w6_band_wl, w6_band_half)
ax.vlines(w6_spike_wl, w6_spike_lo, w6_spike_hi, color='k', lw=0.7, zorder=2)
weak_lo = np.array(w6_spike_lo[:-1])
ax.vlines(w6_weak_wl, weak_lo, weak_lo + np.array(w6_weak_h) * 1e-4, color='k', lw=0.6, zorder=2)
mag = '#c71585'
ax.errorbar(w6_fors2_wl, w6_fors2_rp, yerr=w6_fors2_err, fmt='D', color=mag, ms=6.5, elinewidth=1.5, capsize=0, zorder=4)
ax.errorbar(w6_s430_wl, w6_s430_rp, xerr=w6_s430_xerr, yerr=w6_s430_err, fmt='>', color='red', ms=7, elinewidth=1.3,
            capsize=0, zorder=5)
ax.errorbar(w6_s750_wl, w6_s750_rp, xerr=w6_s750_xerr, yerr=w6_s750_err, fmt='^', color='red', ms=7, elinewidth=1.3,
            capsize=0, zorder=5)
ax.errorbar(w6_wfc3_wl, w6_wfc3_rp, xerr=w6_wfc3_bin, yerr=w6_wfc3_err, fmt='<', color='red', ms=6, elinewidth=1.3,
            capsize=0, zorder=5)
style_spec(ax, (0.1405, 0.1507), [0.142, 0.144, 0.146, 0.148, 0.150], False)
ax.text(0.516, 0.975, 'WASP-6: [Fe/H]=-0.15\u00b10.05', transform=ax.transAxes, ha='center', va='top',
        color='red', fontsize=15.5, family=serif)
h = [Line2D([], [], ls='none', marker='D', color=mag, ms=6),
     Line2D([], [], ls='none', marker='>', color='red', ms=6),
     Line2D([], [], ls='none', marker='^', color='red', ms=6),
     Line2D([], [], ls='none', marker='<', color='red', ms=6)]
ax.legend(h, ['FORS2', 'STIS/430', 'STIS/750', 'WFC3/G141'], loc='upper right', prop={'family': serif, 'size': 8},
          borderpad=0.7, labelspacing=0.7, handletextpad=1.0)

# WASP-96
ax = add_ax(117, spec_rows[1][0], 1211, spec_rows[1][1])
draw_model(ax, w96_model_wl, w96_model_rp, w96_band_wl, w96_band_half)
star4 = (4, 1, 0)
ax.errorbar(w96_fors_wl, w96_fors_rp, xerr=w96_fors_xerr, yerr=w96_fors_err, fmt='none', ecolor='blue', elinewidth=1.3,
            capsize=0, zorder=4)
ax.plot(w96_fors_wl, w96_fors_rp, ls='none', marker=star4, color='blue', ms=9, zorder=5)
ax.errorbar(w96_g102_wl, w96_g102_rp, yerr=w96_g102_err, fmt='D', color='blue', ms=6, elinewidth=1.3, capsize=0, zorder=5)
ax.errorbar(w96_g141_wl, w96_g141_rp, yerr=w96_g141_err, fmt='o', color='blue', ms=6.5, elinewidth=1.3, capsize=0, zorder=5)
style_spec(ax, (0.1124, 0.1226), [0.114, 0.116, 0.118, 0.120, 0.122], False)
ax.text(0.524, 0.975, 'WASP-96: [Fe/H]=+0.24\u00b10.05', transform=ax.transAxes, ha='center', va='top',
        color='blue', fontsize=15.5, family=serif)
h = [Line2D([], [], ls='none', marker=star4, color='blue', ms=8),
     Line2D([], [], ls='none', marker='D', color='blue', ms=6),
     Line2D([], [], ls='none', marker='o', color='blue', ms=6)]
ax.legend(h, ['FORS2+IMACS', 'HST/G102', 'HST/G141'], loc='upper left', prop={'family': serif, 'size': 8},
          borderpad=0.6, labelspacing=0.6, handletextpad=1.0)

# WASP-110
ax = add_ax(117, spec_rows[2][0], 1211, spec_rows[2][1])
draw_model(ax, w110_model_wl, w110_model_rp, w110_band_wl, w110_band_half)
ax.vlines(w110_spike_wl, w110_spike_lo, w110_spike_hi, color='k', lw=0.9, zorder=2)
ax.errorbar(w110_wl, w110_rp, yerr=w110_err, fmt='o', color='green', ms=7, elinewidth=1.4, capsize=0, zorder=5)
style_spec(ax, (0.1356, 0.1457), [0.136, 0.138, 0.140, 0.142, 0.144], True)
ax.set_xlabel('Wavelength ($\\mu$m)', fontsize=17, fontweight='bold', family=serif, math_fontfamily='stix', labelpad=2)
ax.text(0.527, 0.975, 'WASP-110: [Fe/H]=-0.15\u00b10.05', transform=ax.transAxes, ha='center', va='top',
        color='green', fontsize=15.5, family=serif)
h = [Line2D([], [], ls='none', marker='D', color='green', ms=6)]
ax.legend(h, ['FORS2'], loc='upper right', prop={'family': serif, 'size': 8}, borderpad=0.6, handletextpad=1.0)

fig.savefig('out.png', dpi=100)
